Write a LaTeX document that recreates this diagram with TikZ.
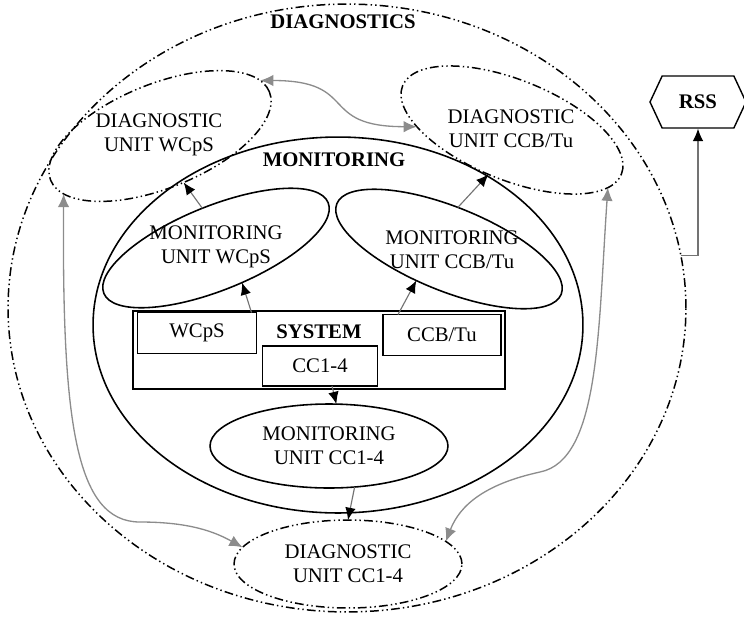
\documentclass[tikz,border=0pt]{standalone}
\usepackage{fontspec}
\setmainfont{Liberation Serif}
\usetikzlibrary{arrows.meta,shapes.geometric,shapes.symbols}

\begin{document}
\begin{tikzpicture}[x=0.02cm, y=-0.02cm,
	font=\fontsize{11.8}{13.6}\selectfont,
	ddline/.style={draw, line width=0.85pt, dash pattern=on 5pt off 1.8pt on 0.8pt off 1.8pt on 0.8pt off 1.8pt},
	solidell/.style={ellipse, draw, line width=0.9pt, align=center, inner sep=0pt, outer sep=0pt},
	diagell/.style={ellipse, ddline, align=center, inner sep=0pt, outer sep=0pt},
	blockbox/.style={draw, line width=0.8pt, inner sep=0pt, outer sep=0pt},
	txt/.style={align=center, inner sep=0pt},
	boldtxt/.style={txt, font=\fontsize{11.8}{13.6}\selectfont\bfseries},
	fwd/.style={draw=black!55, line width=0.65pt, -{Latex[black, length=7pt, width=6pt]}},
	bidi/.style={draw=black!45, line width=0.75pt, {Latex[length=7.5pt, width=6.5pt]}-{Latex[length=7.5pt, width=6.5pt]}}]
			%%%%% START %%%%%
			\useasboundingbox (0,0) rectangle (744,620);
			
			% diagnostics area
			\node[diagell, minimum width=13.56cm, minimum height=12.16cm] (diag) at (347,308) {};
			\node[boldtxt] (diagT) at (343,22) {DIAGNOSTICS};
			
			% monitoring area
			\node[solidell, minimum width=9.8cm, minimum height=7.52cm] (mon) at (338,325) {};
			\node[boldtxt] (monT) at (334,160) {MONITORING};
			
			% diagnostic units
			\node[diagell, rotate=22, minimum width=4.72cm, minimum height=2.08cm] (dW) at (160,136) {};
			\node[txt] (dWT) at (159,135) {DIAGNOSTIC\\UNIT WCpS};
			\node[diagell, rotate=-22, minimum width=4.72cm, minimum height=2.0cm] (dC) at (512,130) {};
			\node[txt] (dCT) at (511,129) {DIAGNOSTIC\\UNIT CCB/Tu};
			\node[diagell, minimum width=4.56cm, minimum height=1.76cm] (dCC) at (348,564) {DIAGNOSTIC\\UNIT CC1-4};
			
			% monitoring units
			\node[solidell, rotate=22, minimum width=4.84cm, minimum height=1.68cm] (mW) at (216,248) {};
			\node[txt] (mWT) at (216,247) {MONITORING\\UNIT WCpS};
			\node[solidell, rotate=-22, minimum width=4.84cm, minimum height=1.68cm] (mC) at (449,249) {};
			\node[txt] (mCT) at (452,250) {MONITORING\\UNIT CCB/Tu};
			\node[solidell, minimum width=4.76cm, minimum height=1.68cm] (mCC) at (329,446) {MONITORING\\UNIT CC1-4};
			
			% system
			\node[blockbox, minimum width=7.44cm, minimum height=1.56cm] (sys) at (319,350) {};
			\node[boldtxt] (sysT) at (319,332) {SYSTEM};
			\node[blockbox, minimum width=2.38cm, minimum height=0.82cm] (bW) at (197,333) {WCpS};
			\node[blockbox, minimum width=2.36cm, minimum height=0.82cm] (bC) at (442,335) {CCB/Tu};
			\node[blockbox, minimum width=2.3cm, minimum height=0.8cm] (bCC) at (320,366) {CC1-4};
			
			% RSS
			\node[signal, signal to=west and east, signal pointer angle=130, draw, line width=0.8pt,
				minimum width=1.92cm, minimum height=1.04cm, boldtxt] (rss) at (698,102) {RSS};
			
			% monitoring -> diagnostics
			\draw[fwd] ([xshift=-0.1cm]bW.north east) -- (mW.-75);
			\draw[fwd] (mW.87) -- (dW.-85);
			\draw[fwd] ([xshift=0.3cm]bC.north west) -- (mC.-114);
			\draw[fwd] (mC.100) -- (dC.-96);
			\draw[fwd] ([xshift=0.24cm]bCC.south) -- (mCC.80);
			\draw[fwd] (mCC.-58) -- (dCC.north);
			\draw[fwd] (diag.9) -| (rss.south);
			
			% links between diagnostic units
			\coordinate (bendL) at (140,522);
			\coordinate (bendR) at (540,472);
			\draw[bidi] (dW.7) .. controls +(100,0) and +(-100,0) .. (dC.200);
			\draw[bidi] (dW.189) .. controls (62,420) and (75,522) .. (bendL) .. controls (190,522) and (215,532) .. (dCC.171);
			\draw[bidi] (dC.-9) .. controls (598,330) and (600,460) .. (bendR) .. controls (485,484) and (460,505) .. (dCC.13);
			
			%%%%% END %%%%%
\end{tikzpicture}
\end{document}
